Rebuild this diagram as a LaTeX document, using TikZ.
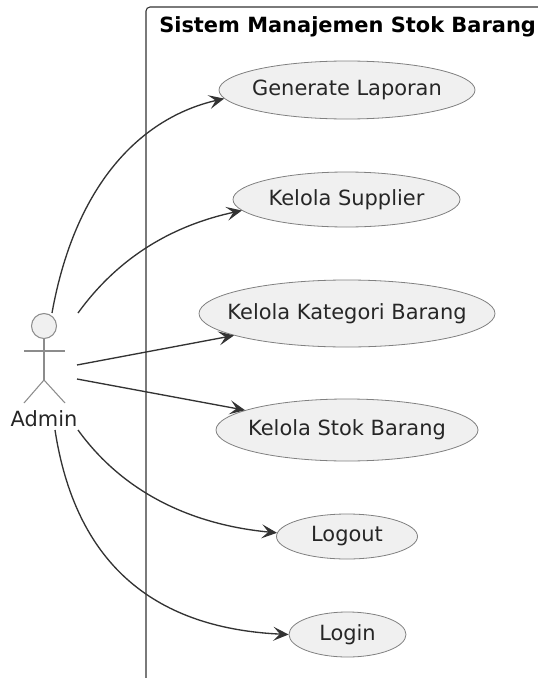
\documentclass[tikz,border=0pt]{standalone}
\usepackage{fontspec}
\setmainfont{DejaVu Sans}
\usetikzlibrary{shapes.geometric, arrows.meta}

\tikzset{
    usecase/.style={ellipse, draw=black!50, fill=black!6, line width=0.6pt, inner xsep=-25pt, inner ysep=0pt, text=black!85, font=\fontsize{15.7}{18}\selectfont},
    stick/.style={draw=black!45, line width=0.8pt},
    link/.style={draw=black!80, line width=1pt, -{Stealth[length=11.5pt,width=10.5pt,inset=5pt]}}
}

\begin{document}
\begin{tikzpicture}[x=0.75pt, y=-0.75pt]
        \useasboundingbox (0,0) rectangle (537,678);

        % system frame, runs off the page on two sides
        \draw[black!80, line width=0.8pt, rounded corners=3pt] (146,690) -- (146,7) -- (550,7);
        \node[anchor=west, inner sep=0pt, font=\bfseries\fontsize{15.7}{18}\selectfont] (title) at (159,27) {Sistem Manajemen Stok Barang};

        \node[usecase, minimum width=256*0.75pt, minimum height=58*0.75pt] (gen) at (347,90) {Generate Laporan};
        \node[usecase, minimum width=227*0.75pt, minimum height=55*0.75pt] (sup) at (346.5,199.5) {Kelola Supplier};
        \node[usecase, minimum width=296*0.75pt, minimum height=67*0.75pt] (kat) at (347,313.5) {Kelola Kategori Barang};
        \node[usecase, minimum width=262*0.75pt, minimum height=62*0.75pt] (stok) at (347,430) {Kelola Stok Barang};
        \node[usecase, minimum width=141*0.75pt, minimum height=45*0.75pt] (logout) at (347,536.5) {Logout};
        \node[usecase, minimum width=117*0.75pt, minimum height=45*0.75pt] (login) at (347.5,634.5) {Login};

        % actor
        \node[circle, draw=black!45, fill=black!6, line width=0.8pt, minimum size=25*0.75pt, inner sep=0pt] (head) at (44,326) {};
        \coordinate (hip) at (44,380);
        \coordinate (armL) at (24,351);
        \coordinate (armR) at (65,351);
        \coordinate (footL) at (24,403);
        \coordinate (footR) at (65,403);
        \draw[stick] (head) -- (hip);
        \draw[stick] (armL) -- (armR);
        \draw[stick] (footL) -- (hip) -- (footR);
        \node[font=\fontsize{15.7}{18}\selectfont, text=black!85, inner sep=0pt] (admin) at (44,419) {Admin};

        % free ends beside the actor
        \coordinate (a1) at (52,313);
        \coordinate (a2) at (78,313);
        \coordinate (a3) at (77,365);
        \coordinate (a4) at (77,379);
        \coordinate (a5) at (78,430);
        \coordinate (a6) at (55,430);

        \draw[link] (a1) .. controls (75,185) and (140,118) .. (gen.184);
        \draw[link] (a2) .. controls (120,255) and (175,225) .. (sup.186);
        \draw[link] (a3) -- (kat.191);
        \draw[link] (a4) -- (stok.169);
        \draw[link] (a5) .. controls (125,495) and (195,525) .. (logout.177);
        \draw[link] (a6) .. controls (75,560) and (150,628) .. (login.180);
    \end{tikzpicture}
\end{document}
